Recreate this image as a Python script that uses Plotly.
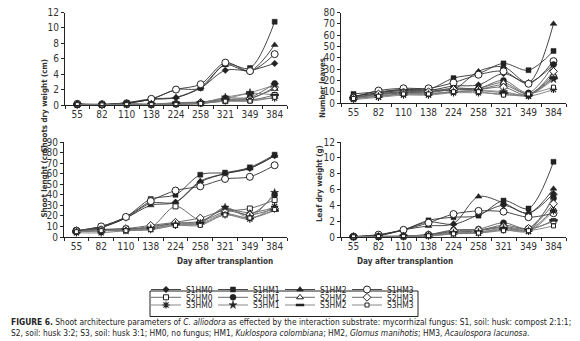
import plotly.graph_objects as go

days = ["55", "82", "110", "138", "224", "258", "321", "349", "384"]
series = ["S1HM0", "S1HM1", "S1HM2", "S1HM3",
          "S2HM0", "S2HM1", "S2HM2", "S2HM3",
          "S3HM0", "S3HM1", "S3HM2", "S3HM3"]

shoot_dry_weight = {
    "S1HM0": [0.1, 0.05, 0.25, 0.7, 0.95, 2.2, 4.5, 4.5, 5.4],
    "S1HM1": [0.1, 0.05, 0.3, 0.75, 2.0, 2.2, 5.3, 4.8, 10.8],
    "S1HM2": [0.1, 0.05, 0.3, 0.8, 1.0, 2.3, 5.2, 4.4, 7.8],
    "S1HM3": [0.15, 0.1, 0.2, 0.8, 2.0, 2.7, 5.5, 4.4, 6.6],
    "S2HM0": [0.05, 0.0, 0.1, 0.05, 0.1, 0.2, 0.5, 0.6, 1.3],
    "S2HM1": [0.05, 0.05, 0.15, 0.1, 0.2, 0.3, 0.9, 1.0, 2.8],
    "S2HM2": [0.05, 0.02, 0.1, 0.1, 0.3, 0.4, 0.7, 0.9, 2.1],
    "S2HM3": [0.05, 0.03, 0.1, 0.05, 0.2, 0.3, 0.6, 0.8, 2.3],
    "S3HM0": [0.05, 0.02, 0.05, 0.05, 0.1, 0.2, 0.6, 0.7, 0.9],
    "S3HM1": [0.05, 0.03, 0.1, 0.1, 0.25, 0.3, 1.0, 1.6, 2.6],
    "S3HM2": [0.05, 0.02, 0.1, 0.05, 0.15, 0.25, 0.8, 1.5, 1.3],
    "S3HM3": [0.05, 0.01, 0.05, 0.05, 0.05, 0.2, 0.5, 0.5, 1.0],
}
number_leaves = {
    "S1HM0": [6, 9, 11, 11, 15, 16, 26, 18, 34],
    "S1HM1": [8, 10, 12, 12, 22, 26, 35, 29, 46],
    "S1HM2": [6, 9, 12, 12, 12, 28, 32, 18, 70],
    "S1HM3": [5, 11, 13, 13, 18, 25, 28, 17, 37],
    "S2HM0": [4, 7, 9, 9, 12, 12, 16, 8, 23],
    "S2HM1": [5, 8, 10, 10, 13, 13, 20, 9, 34],
    "S2HM2": [4, 8, 10, 10, 13, 13, 18, 8, 25],
    "S2HM3": [5, 8, 9, 10, 12, 12, 14, 7, 28],
    "S3HM0": [3, 5, 7, 7, 9, 9, 8, 6, 12],
    "S3HM1": [4, 6, 8, 8, 10, 11, 10, 7, 21],
    "S3HM2": [4, 6, 8, 8, 10, 11, 9, 7, 22],
    "S3HM3": [4, 6, 8, 8, 10, 10, 7, 8, 14],
}
shoot_length = {
    "S1HM0": [5, 9, 18, 32, 33, 52, 60, 65, 77],
    "S1HM1": [6, 10, 19, 36, 40, 59, 61, 66, 78],
    "S1HM2": [5, 9, 18, 30, 33, 53, 60, 65, 77],
    "S1HM3": [6, 10, 19, 34, 44, 48, 55, 57, 68],
    "S2HM0": [6, 7, 8, 9, 29, 16, 24, 27, 35],
    "S2HM1": [5, 7, 7, 9, 13, 14, 27, 21, 40],
    "S2HM2": [5, 6, 7, 10, 13, 15, 26, 23, 28],
    "S2HM3": [6, 7, 8, 11, 14, 18, 25, 21, 27],
    "S3HM0": [4, 4, 6, 7, 11, 12, 21, 17, 29],
    "S3HM1": [5, 6, 6, 8, 12, 13, 28, 19, 42],
    "S3HM2": [5, 6, 7, 8, 12, 13, 22, 18, 25],
    "S3HM3": [5, 6, 6, 7, 11, 11, 21, 18, 26],
}
leaf_dry_weight = {
    "S1HM0": [0.05, 0.2, 0.9, 1.9, 1.6, 2.8, 4.0, 3.0, 5.5],
    "S1HM1": [0.05, 0.2, 0.9, 2.1, 2.5, 2.7, 4.6, 3.6, 9.5],
    "S1HM2": [0.05, 0.25, 0.9, 1.4, 1.7, 5.1, 4.3, 3.0, 6.1],
    "S1HM3": [0.05, 0.3, 0.9, 1.8, 2.9, 3.3, 3.2, 2.5, 3.0],
    "S2HM0": [0.02, 0.05, 0.1, 0.3, 0.6, 0.8, 1.5, 1.0, 2.0],
    "S2HM1": [0.02, 0.1, 0.1, 0.3, 0.9, 1.0, 1.8, 1.1, 4.9],
    "S2HM2": [0.02, 0.08, 0.1, 0.25, 0.7, 0.8, 1.2, 0.9, 3.5],
    "S2HM3": [0.02, 0.05, 0.1, 0.3, 0.8, 0.9, 1.3, 1.1, 4.2],
    "S3HM0": [0.02, 0.05, 0.05, 0.1, 0.4, 0.5, 0.9, 0.7, 3.3],
    "S3HM1": [0.02, 0.05, 0.1, 0.2, 0.5, 0.6, 1.1, 0.8, 5.2],
    "S3HM2": [0.02, 0.05, 0.05, 0.2, 0.5, 0.6, 1.0, 0.9, 2.1],
    "S3HM3": [0.02, 0.05, 0.05, 0.15, 0.4, 0.5, 0.8, 0.8, 1.4],
}

W, H = 580, 341
FONT = "Liberation Sans Narrow, DejaVu Sans Condensed, Arial Narrow, sans-serif"
INK = "#222222"

# marker styles: (symbol, size, fill, line width)
styles = {
    "S1HM0": ("diamond", 5, INK, 0.5),
    "S1HM1": ("square", 5, INK, 0.5),
    "S1HM2": ("triangle-up", 6, INK, 0.5),
    "S1HM3": ("circle", 7, "white", 1),
    "S2HM0": ("square", 5, "white", 1),
    "S2HM1": ("circle", 6, INK, 0.5),
    "S2HM2": ("triangle-up", 6, "white", 1),
    "S2HM3": ("diamond", 6, "white", 1),
    "S3HM0": ("asterisk-open", 6, INK, 1.2),
    "S3HM1": ("star", 6, INK, 0.5),
    "S3HM2": ("line-ew-open", 6, INK, 2.5),
    "S3HM3": ("square", 4, "white", 1),
}
line_colors = {"S1": "#333333", "S2": "#5a5a5a", "S3": "#7a7a7a"}

def px_x(p):
    return p / W

def px_y(p):
    return 1 - p / H

panels = [
    # data, xaxis, yaxis, x-domain px, y-domain px, range, dtick
    (shoot_dry_weight, "x", "y", (57, 279), (4.5, 97), 12, 2),
    (number_leaves, "x2", "y2", (333, 558), (4.5, 95), 80, 10),
    (shoot_length, "x3", "y3", (56, 279), (134, 229), 90, 10),
    (leaf_dry_weight, "x4", "y4", (333, 558), (134, 229), 12, 2),
]

fig = go.Figure()
legend_of = {"S1": "legend", "S2": "legend2", "S3": "legend3"}

for pi, (data, xa, ya, xd, yd, rmax, dt) in enumerate(panels):
    for s in series:
        sym, size, fill, lw = styles[s]
        grp = s[:2]
        fig.add_trace(go.Scatter(
            x=days, y=data[s], name=s, xaxis=xa, yaxis=ya,
            mode="lines+markers",
            line=dict(color=line_colors[grp], width=0.9, shape="spline", smoothing=0.9),
            marker=dict(symbol=sym, size=size, color=fill,
                        line=dict(color=INK, width=lw)),
            cliponaxis=False,
            showlegend=(pi == 0),
            legend=legend_of[grp],
            legendgroup=s,
        ))
    idx = "" if pi == 0 else str(pi + 1)
    axis_common = dict(showline=True, linecolor=INK, linewidth=1, ticks="outside",
                       ticklen=3, tickcolor=INK, showgrid=False, zeroline=False,
                       automargin=False, tickangle=0,
                       tickfont=dict(family=FONT, size=10, color="#333333"))
    fig.layout["xaxis" + idx] = dict(
        domain=[px_x(xd[0]), px_x(xd[1])], anchor=ya, type="category",
        range=[-0.5, 8.5], tickson="boundaries", **axis_common)
    fig.layout["yaxis" + idx] = dict(
        domain=[px_y(yd[1]), px_y(yd[0])], anchor=xa, range=[0, rmax],
        dtick=dt, **axis_common)

# axis titles
titles = [
    ("Shoots dry weight (cm)", 29, 49),
    ("Number leaves", 314, 48),
    ("Shoot lenght (cm)", 29, 174),
    ("Leaf dry weight (g)", 311, 176),
]
for t, xp, yp in titles:
    fig.add_annotation(text="<b>" + t + "</b>", x=px_x(xp), y=px_y(yp), xref="paper",
                       yref="paper", textangle=-90, showarrow=False,
                       font=dict(family=FONT, size=7.9, color="#333333"))
for xp in (167, 447):
    fig.add_annotation(text="<b>Day after transplantion</b>", x=px_x(xp), y=px_y(260),
                       xref="paper", yref="paper", showarrow=False,
                       font=dict(family=FONT, size=8.1, color="#333333"))

# legend rows
legend_style = dict(orientation="h", xanchor="left", yanchor="middle",
                    bgcolor="rgba(0,0,0,0)", borderwidth=0, itemwidth=30,
                    entrywidth=22, entrywidthmode="pixels", tracegroupgap=0,
                    font=dict(family=FONT, size=8.4, color=INK), itemclick=False)
LEG_X = 138
for name, yp in (("legend", 281.5), ("legend2", 289.3), ("legend3", 297)):
    fig.layout[name] = dict(x=px_x(LEG_X), y=px_y(yp), **legend_style)

fig.add_shape(type="rect", xref="paper", yref="paper",
              x0=px_x(LEG_X + 4), x1=px_x(LEG_X + 272), y0=px_y(308.5), y1=px_y(283),
              line=dict(color=INK, width=1))

# caption
cap1 = ("<b>FIGURE 6.</b> Shoot architecture parameters of <i>C. alliodora</i> as effected by "
        "the interaction substrate: mycorrhizal fungus: S1, soil: husk: compost 2:1:1;")
cap2 = ("S2, soil: husk 3:2; S3, soil: husk 3:1; HM0, no fungus; HM1, <i>Kuklospora colombiana</i>; "
        "HM2, <i>Glomus manihotis</i>; HM3, <i>Acaulospora lacunosa</i>.")
for txt, yp in ((cap1, 314), (cap2, 324.5)):
    fig.add_annotation(text=txt, x=px_x(1), y=px_y(yp), xref="paper", yref="paper",
                       xanchor="left", yanchor="middle", showarrow=False,
                       font=dict(family=FONT, size=8.4, color="#222222"))

fig.update_layout(width=W, height=H, margin=dict(l=0, r=0, t=0, b=0),
                  paper_bgcolor="white", plot_bgcolor="white",
                  font=dict(family=FONT, size=9, color=INK))

fig.write_html("out.html")
